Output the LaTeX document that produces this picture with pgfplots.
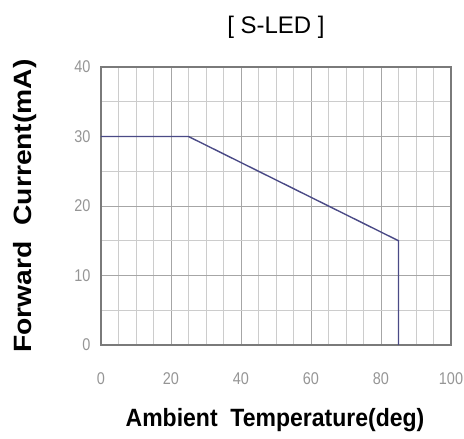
\documentclass[border=0pt]{standalone}
\usepackage{pgfplots}
\pgfplotsset{compat=1.18}
\usepackage{fontspec}
\setmainfont{Liberation Sans}
\definecolor{curve}{HTML}{4A4A86}
\definecolor{frame}{HTML}{7A7A7A}
\definecolor{ticklab}{HTML}{959595}
\begin{document}
\begin{tikzpicture}[x=1pt,y=1pt]
\path[use as bounding box] (-101,-94) rectangle (363,345);
\begin{axis}[
  at={(0,0)}, anchor=south west,
  scale only axis,
  width=350pt, height=278pt,
  xmin=0, xmax=100, ymin=0, ymax=40,
  xtick={0,20,...,100},
  ytick={0,10,...,40},
  minor xtick={5,10,...,95},
  minor ytick={5,15,...,35},
  grid=both,
  major grid style={draw=gray!70, line width=0.9pt},
  minor grid style={draw=gray!40, line width=0.6pt},
  major tick length=0pt, minor tick length=0pt,
  axis line style={draw=frame, line width=2.6pt},
  tick label style={font=\fontsize{17}{17}\selectfont, text=ticklab, xscale=0.85},
  /pgf/number format/assume math mode=true,
  xticklabel style={yshift=-24pt},
  yticklabel style={xshift=-9pt},
  clip=false,
]
\addplot[curve, line width=1.4pt] coordinates {
  (0,30) (25,30) (85,15) (85,0)
};
\end{axis}
\node[font=\fontsize{24}{24}\selectfont] at (175,318) {[ S-LED ]};
\node[font=\fontsize{25}{25}\selectfont\bfseries, xscale=0.92] at (174,-75) {Ambient\ \ Temperature(deg)};
\node[font=\fontsize{25}{25}\selectfont\bfseries, rotate=90, xscale=1.13] at (-76,139) {Forward\ \ Current(mA)};
\end{tikzpicture}
\end{document}
